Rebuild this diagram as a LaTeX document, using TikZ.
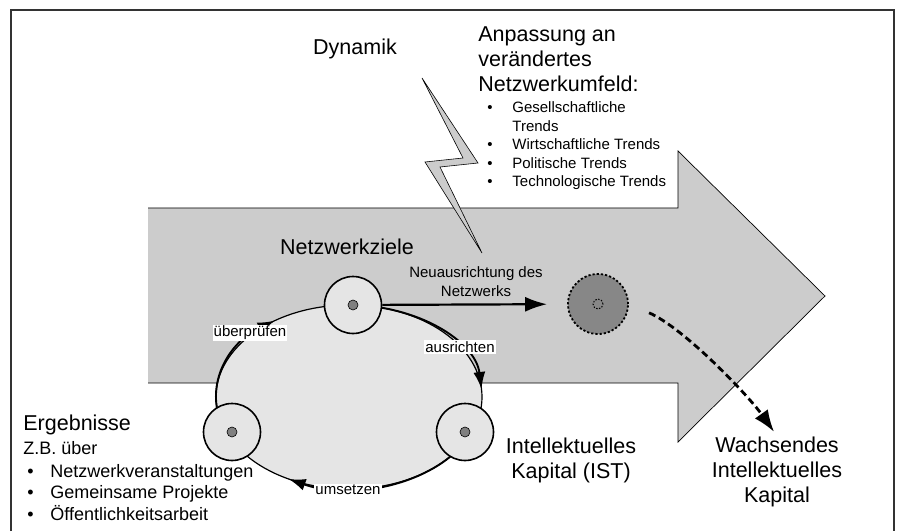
\documentclass[tikz,border=0pt]{standalone}
\usepackage{fontspec}
\setmainfont{Liberation Sans}
\usetikzlibrary{positioning,calc,arrows.meta}

\begin{document}
\begin{tikzpicture}[x=1pt,y=1pt,
    thick,
    cyc node/.style={circle,fill=gray!20,draw,line width=1.6pt,minimum size=57pt,inner sep=0pt},
    dot node/.style={circle,fill=gray,draw,line width=0.6pt,minimum size=10pt,inner sep=0pt},
    big text/.style={font=\fontsize{21.5}{25}\selectfont,inner sep=0pt},
    mid text/.style={font=\fontsize{18}{21.5}\selectfont,inner sep=0pt},
    small text/.style={font=\fontsize{15}{18.5}\selectfont,inner sep=0pt},
    step label/.style={font=\fontsize{15}{18}\selectfont,fill=white,inner sep=1pt},
    cyc arrow/.style={line width=1.9pt,-{Latex[length=17pt,width=12pt]}}
  ]
  \useasboundingbox (0,0) rectangle (899,531);
  % frame
  \draw[line width=1.3pt,black!80] (11,0) -- (11,521) -- (894,521) -- (894,0);

  % big arrow
  \fill[gray!40] (148,323) -- (678,323) -- (678,380) -- (825,235) -- (678,89) -- (678,148) -- (148,148) -- cycle;
  \draw[line width=0.7pt] (148,323) -- (678,323) -- (678,380) -- (825,235) -- (678,89) -- (678,148) -- (148,148);

  % lightning
  \draw[fill=gray!40,line width=0.6pt] (422,453) -- (478,368) -- (440,364) -- (482,278) -- (425,369) -- (463,373) -- cycle;

  % cycle
  \coordinate (cyc) at (349,134);
  \draw[fill=gray!20,line width=1.2pt] (cyc) ellipse [x radius=133,y radius=92];
  \draw[cyc arrow] ($(cyc)+(90:133 and 92)$) arc[start angle=90,end angle=5,x radius=133,y radius=92];
  \draw[cyc arrow] ($(cyc)+(325:133 and 92)$) arc[start angle=325,end angle=243,x radius=133,y radius=92];
  \draw[cyc arrow] ($(cyc)+(190:133 and 92)$) arc[start angle=190,end angle=124,x radius=133,y radius=92];

  \node[cyc node] (ziel) at (353,226) {};
  \node[cyc node] (erg) at (232,99) {};
  \node[cyc node] (ist) at (465,99) {};
  \node[dot node] (ziel dot) at (ziel) {};
  \node[dot node] (erg dot) at (erg) {};
  \node[dot node] (ist dot) at (ist) {};

  \node[step label] (pruef) at (250,198) {überprüfen};
  \node[step label] (richt) at (460,184) {ausrichten};
  \node[step label] (umset) at (348,41) {umsetzen};

  % new position
  \node[circle,draw,dash pattern=on 2.2pt off 2pt,line width=1.8pt,fill=black!47,minimum size=60pt] (neu) at (598,227) {};
  \node[circle,draw,dash pattern=on 1.5pt off 1.5pt,line width=1pt,minimum size=10pt,inner sep=0pt] (neu dot) at (neu) {};

  % texts
  \node[big text,anchor=base] (dyn) at (355,476) {Dynamik};
  \node[big text] (ziel txt) at (347,284) {Netzwerkziele};
  \node[big text,align=left,anchor=base west] (anp) at (478,439) {Anpassung an\\verändertes\\Netzwerkumfeld:};
  \node[small text,anchor=base west] (trends) at (487,418) {\begin{tabular}[t]{@{}p{25pt}@{}l@{}}\textbullet & Gesellschaftliche\\ & Trends\\ \textbullet & Wirtschaftliche Trends\\ \textbullet & Politische Trends\\ \textbullet & Technologische Trends\end{tabular}};
  \node[big text,anchor=base west] (erg txt) at (23,101) {Ergebnisse};
  \node[mid text,anchor=base west] (zb) at (23,77) {Z.B. über};
  \node[mid text,anchor=base west] (erg list) at (27,54) {\begin{tabular}[t]{@{}p{23pt}@{}l@{}}\textbullet & Netzwerkveranstaltungen\\ \textbullet & Gemeinsame Projekte\\ \textbullet & Öffentlichkeitsarbeit\end{tabular}};
  \node[big text,align=center,anchor=base] (ist txt) at (571,53) {Intellektuelles\\Kapital (IST)};
  \node[big text,align=center,anchor=base] (wachs) at (777,29) {Wachsendes\\Intellektuelles\\Kapital};
  \node[small text,align=center,anchor=base] (neu txt) at (476,235) {Neuausrichtung des\\Netzwerks};

  % connectors
  \path (ziel) edge[line width=2.2pt,-{Latex[length=22pt,width=15pt]},shorten >=20pt] (neu);
  \draw[line width=2.8pt,dash pattern=on 7pt off 4pt,-{Latex[length=22pt,width=16pt]},shorten <=22pt,shorten >=5pt]
    (neu.east) .. controls +(55,-24) and +(-29,41) .. (wachs.north);
\end{tikzpicture}
\end{document}
